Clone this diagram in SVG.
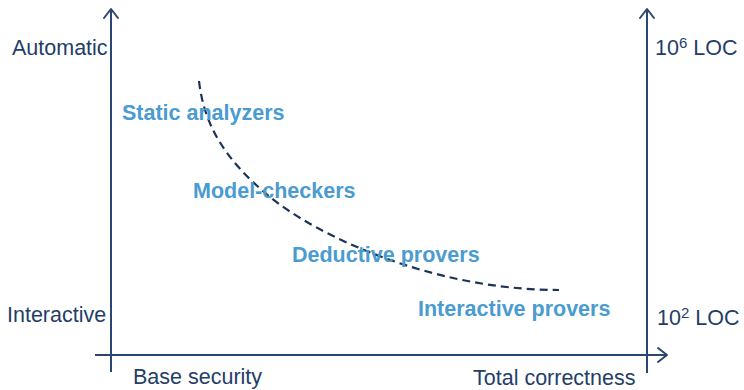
<svg xmlns="http://www.w3.org/2000/svg" width="744" height="390" viewBox="0 0 744 390">
<style>
.ax{stroke:#2a4672;stroke-width:2;fill:none}
.ah{stroke:#2a4672;stroke-width:2;fill:none;stroke-linecap:round;stroke-linejoin:round}
.lab{font-family:"Liberation Sans",Arial,sans-serif;font-size:21.5px;fill:#243e68}
.tool{font-family:"Liberation Sans",Arial,sans-serif;font-size:21.5px;font-weight:bold;fill:#4a9bd0}
.curve{stroke:#1c3358;stroke-width:2.2;fill:none;stroke-dasharray:8 5}
</style>
<rect width="744" height="390" fill="#fff"/>
<g id="connectors">
<line class="ax" x1="111" y1="9" x2="111" y2="372"/>
<polyline class="ah" points="104,18 111,9 118,18"/>
<line class="ax" x1="647" y1="9" x2="647" y2="373"/>
<polyline class="ah" points="640,18 647,9 654,18"/>
<line class="ax" x1="95" y1="355" x2="667" y2="355"/>
<polyline class="ah" points="658,348 667,355 658,362"/>
<path class="curve" d="M199,81 C204,125 225,160 270,197 S430,290 559,290"/>
</g>
<g id="axis-labels">
<text class="lab" x="12" y="55">Automatic</text>
<text class="lab" x="7" y="322">Interactive</text>
<text class="lab" x="133" y="384">Base security</text>
<text class="lab" x="473" y="385">Total correctness</text>
<text class="lab" x="655" y="55">10<tspan font-size="15" dy="-7">6</tspan><tspan dy="7"> LOC</tspan></text>
<text class="lab" x="657" y="325">10<tspan font-size="15" dy="-7">2</tspan><tspan dy="7"> LOC</tspan></text>
</g>
<g id="static-analyzers"><text class="tool" x="122" y="120">Static analyzers</text></g>
<g id="model-checkers"><text class="tool" x="193" y="198">Model-checkers</text></g>
<g id="deductive-provers"><text class="tool" x="292" y="262">Deductive provers</text></g>
<g id="interactive-provers"><text class="tool" x="418" y="316">Interactive provers</text></g>
</svg>
